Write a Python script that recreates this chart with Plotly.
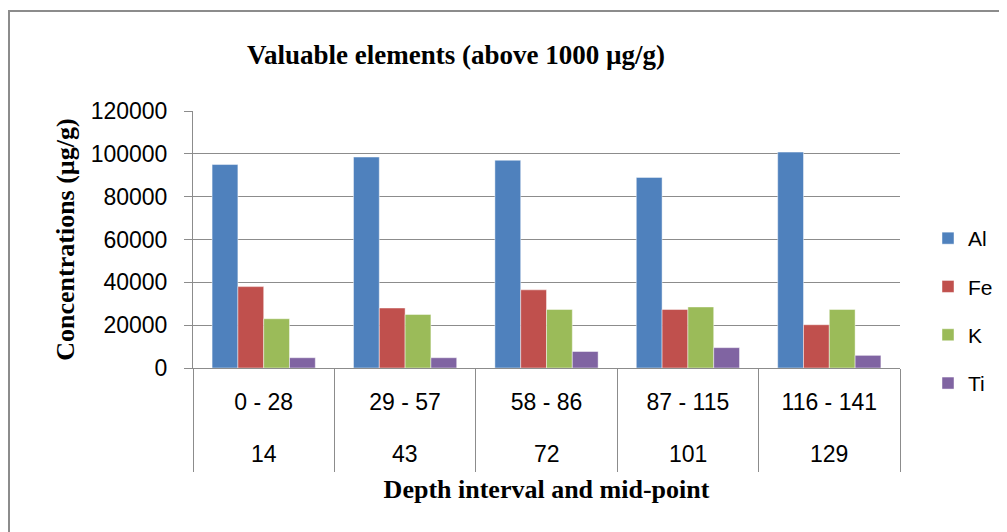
import plotly.graph_objects as go

# ---- data ----
intervals = ["0 - 28", "29 - 57", "58 - 86", "87 - 115", "116 - 141"]
midpoints = ["14", "43", "72", "101", "129"]
al = [95000, 98500, 97000, 89000, 100800]
fe = [38000, 28000, 36500, 27300, 20200]
k = [23000, 25000, 27300, 28500, 27300]
ti = [4800, 4800, 7700, 9500, 5900]
series_names = ["Al", "Fe", "K", "Ti"]
series_values = [al, fe, k, ti]
colors = ["#4F81BD", "#C0504D", "#9BBB59", "#8064A2"]
y_ticks = [0, 20000, 40000, 60000, 80000, 100000, 120000]

W, H = 1007, 532
OFF = 8  # page body margin offset
L, R, T, B = 185, 115, 103, 172
PW, PH = W - L - R, H - T - B


def px_to_paper_x(px):
    return (px - OFF - L) / PW


def px_to_paper_y(py):
    return (H - B - (py - OFF)) / PH


GRAY = "#8c8c8c"
SANS = "Liberation Sans"
SERIF = "Liberation Serif"
CAT_FONT = dict(family=SANS, size=23, color="black")

fig = go.Figure()
for name, vals, col in zip(series_names, series_values, colors):
    fig.add_trace(go.Bar(
        x=intervals, y=vals, name=name, legendgroup=name,
        marker=dict(color=col, line=dict(color="rgba(255,255,255,0.45)", width=1)),
    ))

fig.update_layout(
    width=W, height=H,
    margin=dict(l=L, r=R, t=T, b=B, autoexpand=False),
    paper_bgcolor="white", plot_bgcolor="white",
    barmode="group", bargap=0.27, bargroupgap=0,
    title=dict(text="<b>Valuable elements (above 1000 µg/g)</b>",
               font=dict(family=SERIF, size=27, color="black"),
               x=(456 - OFF) / W, xanchor="center", xref="container",
               y=1 - (55 - OFF) / H, yanchor="middle", yref="container"),
    font=dict(family=SANS, color="black"),
    legend=dict(x=px_to_paper_x(928), xanchor="left",
                y=px_to_paper_y(311), yanchor="middle",
                font=dict(family=SANS, size=21, color="black"),
                tracegroupgap=18, bgcolor="rgba(0,0,0,0)"),
    showlegend=True,
)

fig.update_xaxes(
    type="category",
    tickmode="array", tickvals=intervals, ticktext=intervals,
    tickfont=CAT_FONT,
    ticks="outside", tickson="boundaries", ticklen=103,
    tickcolor=GRAY, tickwidth=1,
    ticklabelstandoff=13,
    showline=True, linecolor=GRAY, linewidth=1,
    showgrid=False, automargin=False,
    title=dict(text="<b>Depth interval and mid-point</b>",
               font=dict(family=SERIF, size=26, color="black"),
               standoff=66),
)

# second category level (mid-points) under the depth intervals
for cat, mid in zip(intervals, midpoints):
    fig.add_annotation(x=cat, xref="x", y=px_to_paper_y(454), yref="paper",
                       text=mid, showarrow=False, font=CAT_FONT,
                       xanchor="center", yanchor="middle")

fig.update_yaxes(
    range=[0, 120000], tickmode="array", tickvals=y_ticks,
    ticktext=[str(v) for v in y_ticks],
    tickfont=dict(family=SANS, size=23, color="black"),
    ticks="outside", ticklen=8, tickcolor=GRAY, tickwidth=1,
    ticklabelstandoff=12,
    showline=True, linecolor=GRAY, linewidth=1,
    showgrid=True, gridcolor=GRAY, gridwidth=1, zeroline=False,
    automargin=False,
    title=dict(text="<b>Concentrations (µg/g)</b>",
               font=dict(family=SERIF, size=26, color="black"),
               standoff=8),
)

# outer chart-area border
fig.add_shape(type="rect", xref="paper", yref="paper",
              x0=px_to_paper_x(9), x1=px_to_paper_x(W + 20),
              y0=px_to_paper_y(H + 20), y1=px_to_paper_y(11),
              line=dict(color=GRAY, width=2), fillcolor="rgba(0,0,0,0)",
              layer="below")

fig.write_html("out.html")
